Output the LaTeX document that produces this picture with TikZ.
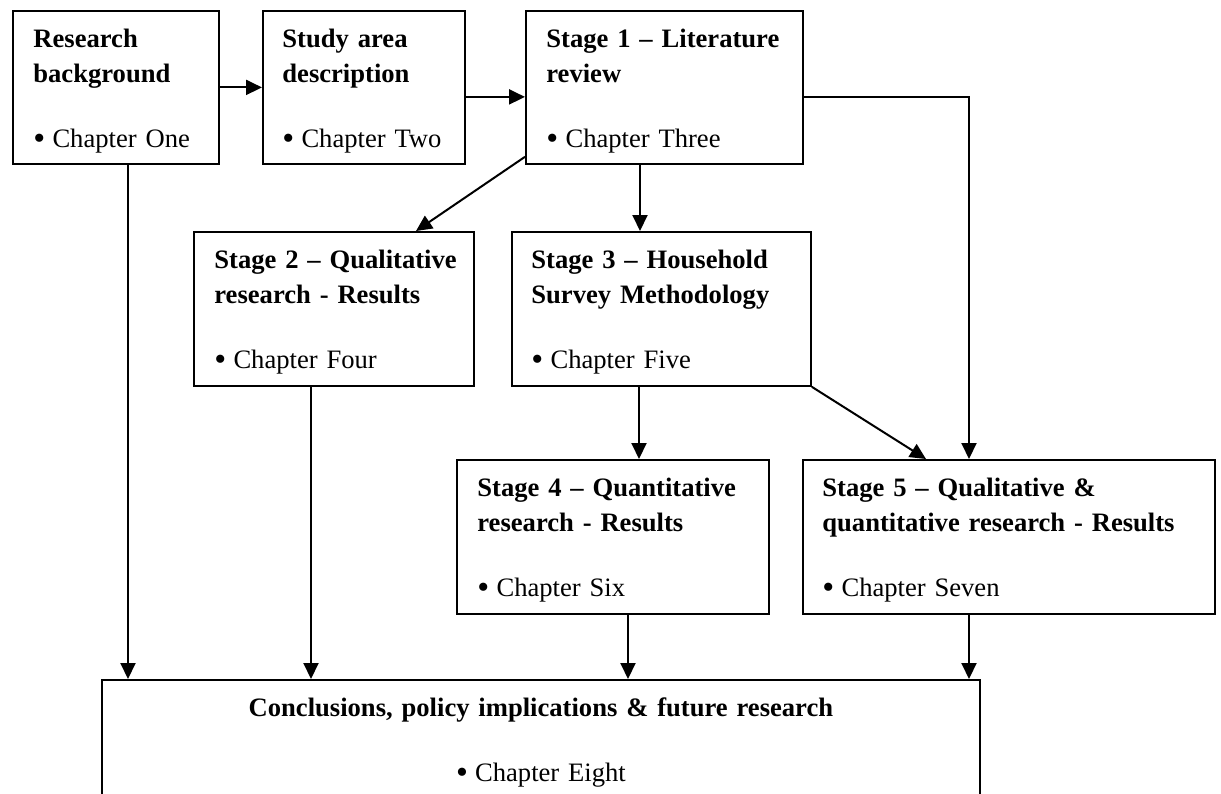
\documentclass[tikz,border=0pt]{standalone}
\usepackage{fontspec}
\setmainfont{Liberation Serif}
\usetikzlibrary{arrows.meta,calc}
% list bullet followed by its gap to the item text
\newcommand{\itembul}{{\fontsize{17pt}{17pt}\selectfont\raisebox{-1pt}{\textbullet}}\hspace{3.6pt}}

\begin{document}
\begin{tikzpicture}[x=0.5pt,y=-0.5pt,
  box/.style={draw=black, line width=0.9pt, anchor=north west, inner sep=0pt},
  txt/.style={anchor=base west, inner sep=0pt, text width=#1, align=left,
    font=\fontsize{13.3pt}{17.5pt}\selectfont},
  ctxt/.style={anchor=base, inner sep=0pt, text width=#1, align=center,
    font=\fontsize{13.3pt}{17.5pt}\selectfont},
  arr/.style={line width=1pt, -{Triangle[length=8pt,width=7.5pt]}}]

\useasboundingbox (0,0) rectangle (1221,793);
\clip (0,0) rectangle (1221,793);

% boxes
\node[box, minimum width=103pt,   minimum height=76.5pt] (A) at (12,10)   {};
\node[box, minimum width=101pt,   minimum height=76.5pt] (B) at (262,10)  {};
\node[box, minimum width=138.5pt, minimum height=76.5pt] (C) at (525,10)  {};
\node[box, minimum width=140pt,   minimum height=77pt]   (D) at (193,231) {};
\node[box, minimum width=149.5pt, minimum height=77pt]   (E) at (511,231) {};
\node[box, minimum width=156pt,   minimum height=77pt]   (F) at (456,459) {};
\node[box, minimum width=206pt,   minimum height=77pt]   (G) at (802,459) {};
\node[box, minimum width=439pt,   minimum height=80pt]   (H) at (101,679) {};

% box texts
\node[txt=95pt] (At) at ($(A.north west)+(21,37)$)
  {\textbf{Research}\\\textbf{background}\\[15pt]\itembul Chapter One};
\node[txt=95pt] (Bt) at ($(B.north west)+(20,37)$)
  {\textbf{Study area}\\\textbf{description}\\[15pt]\itembul Chapter Two};
\node[txt=128pt] (Ct) at ($(C.north west)+(21,37)$)
  {\textbf{Stage 1 – Literature}\\\textbf{review}\\[15pt]\itembul Chapter Three};
\node[txt=130pt] (Dt) at ($(D.north west)+(21,37)$)
  {\textbf{Stage 2 – Qualitative}\\\textbf{research - Results}\\[15pt]\itembul Chapter Four};
\node[txt=138pt] (Et) at ($(E.north west)+(20,37)$)
  {\textbf{Stage 3 – Household}\\\textbf{Survey Methodology}\\[15pt]\itembul Chapter Five};
\node[txt=145pt] (Ft) at ($(F.north west)+(21,37)$)
  {\textbf{Stage 4 – Quantitative}\\\textbf{research - Results}\\[15pt]\itembul Chapter Six};
\node[txt=195pt] (Gt) at ($(G.north west)+(20,37)$)
  {\textbf{Stage 5 – Qualitative \&}\\\textbf{quantitative research - Results}\\[15pt]\itembul Chapter Seven};
\node[ctxt=400pt] (Ht) at ($(H.north)+(0,37)$)
  {\textbf{Conclusions, policy implications \& future research}\\[15pt]\itembul Chapter Eight};

% connectors
\draw[arr] (A.east) -- (B.west);
\draw[arr] ($(B.east)+(0,9.5)$) -- ($(C.west)+(0,9.5)$);
\draw[arr] ($(C.south west)+(0,-8)$) -- ($(D.north west)+(223,0)$);

\coordinate (c1) at ($(C.south west)+(115,0)$);
\draw[arr] (c1) -- (c1 |- E.north);

\coordinate (c2) at ($(C.east)+(0,9.5)$);
\coordinate (g1) at ($(G.north west)+(167,0)$);
\draw[arr] (c2) -| (g1);

\coordinate (e1) at ($(E.south west)+(128,0)$);
\draw[arr] (e1) -- (e1 |- F.north);
\draw[arr] (E.south east) -- ($(G.north west)+(124,0)$);

\coordinate (a1) at ($(A.south west)+(116,0)$);
\draw[arr] (a1) -- (a1 |- H.north);
\coordinate (d1) at ($(D.south west)+(118,0)$);
\draw[arr] (d1) -- (d1 |- H.north);
\coordinate (f1) at ($(F.south west)+(172,0)$);
\draw[arr] (f1) -- (f1 |- H.north);
\coordinate (g2) at ($(G.south west)+(167,0)$);
\draw[arr] (g2) -- (g2 |- H.north);
\end{tikzpicture}
\end{document}
